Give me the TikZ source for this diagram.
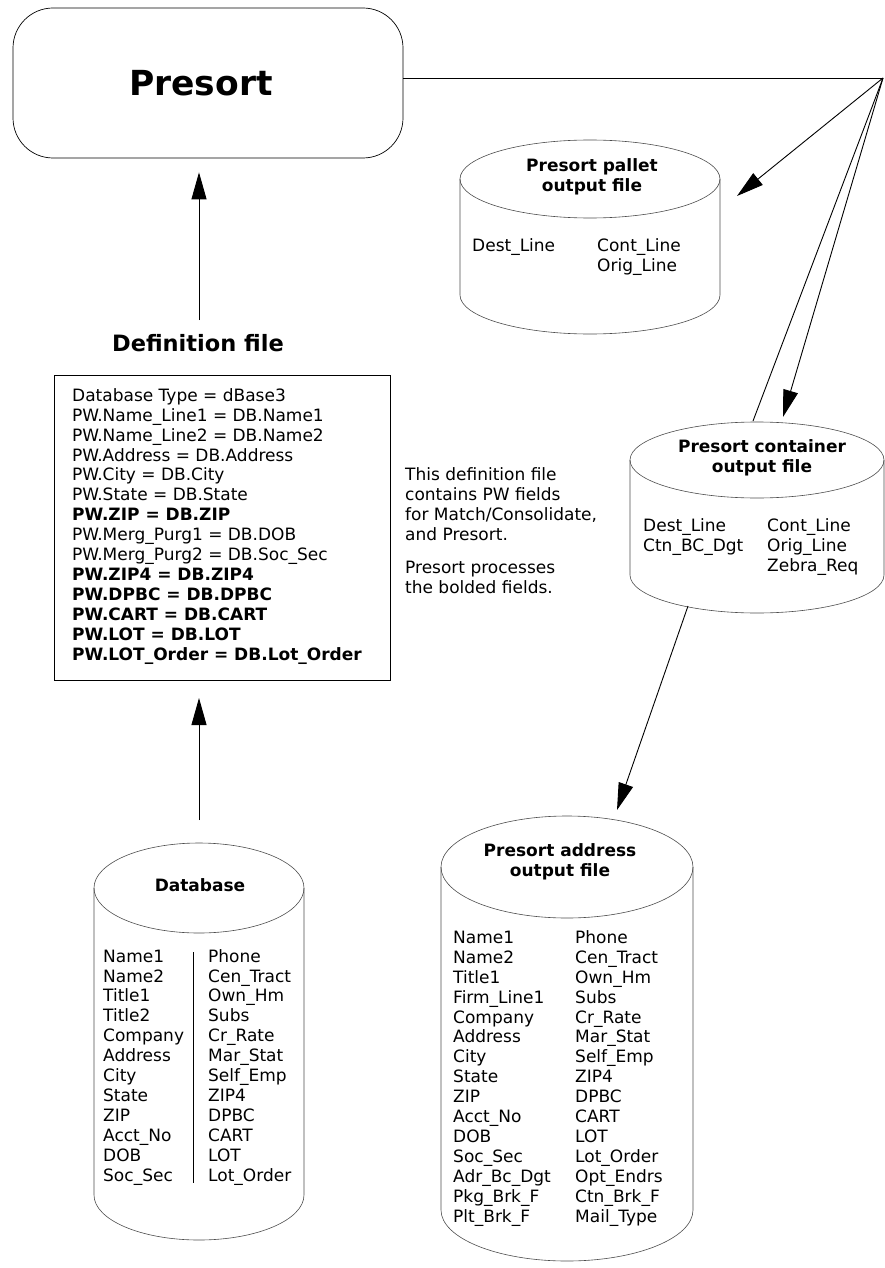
\documentclass[tikz,border=0pt]{standalone}
\usepackage{fontspec}
\setmainfont{DejaVu Sans}
\usetikzlibrary{arrows.meta}

\tikzset{
  arr/.style={-{Triangle[length=27pt,width=15pt]}, line width=0.9pt},
  cylline/.style={line width=0.6pt, draw=black!70},
  % base of a multi-line node is the baseline of its last line
  bodytext/.style={anchor=base west, align=left, inner sep=0pt,
    font=\fontsize{17}{19.9}\selectfont},
  cyltitle/.style={align=center, inner sep=0pt,
    font=\fontsize{17}{19.5}\selectfont\bfseries}
}

% cylinder: centre x, top centre y, bottom centre y, x radius, y radius
\newcommand{\drawcyl}[5]{%
  \draw[cylline] (#1,#2) ellipse [x radius=#4, y radius=#5];
  \draw[cylline] (#1-#4,#2) -- (#1-#4,#3)
    arc[start angle=180, end angle=0, x radius=#4, y radius=#5] -- (#1+#4,#2);
}

\begin{document}
\begin{tikzpicture}[x=1pt, y=-1pt]
                \useasboundingbox (0,0) rectangle (884,1268);
                % Presort and the lines out of it
                \node[draw, line width=0.7pt, rounded corners=40pt, minimum width=390pt,
                      minimum height=150pt, font=\fontsize{34.5}{40}\selectfont\bfseries]
                      (presort) at (208,83) {Presort\kern14pt};
                \coordinate (hub) at (883,78);
                \coordinate (pallettip) at (737,196);
                \coordinate (conttip) at (783,417);
                \coordinate (conttop) at (753,421);
                \draw[line width=0.9pt] (presort.east |- hub) -- (hub);
                \draw[arr] (hub) -- (pallettip);
                \draw[arr] (hub) -- (conttip);
                \draw[line width=0.9pt] (hub) -- (conttop);
                % definition file
                \node[font=\fontsize{22.5}{26}\selectfont\bfseries] (deftitle) at (198,343) {Definition file};
                \coordinate (defup) at (199,331);
                \draw[arr, shorten <=11pt, shorten >=14pt] (defup) -- (defup |- presort.south);
                \draw[line width=0.9pt] (54,375) rectangle (390,680);
                \coordinate (defbot) at (199,680);
                \node[bodytext] (deftext) at (72,660) {Database Type = dBase3\\
                  PW.Name\_Line1 = DB.Name1\\
                  PW.Name\_Line2 = DB.Name2\\
                  PW.Address = DB.Address\\
                  PW.City = DB.City\\
                  PW.State = DB.State\\
                  \textbf{PW.ZIP = DB.ZIP}\\
                  PW.Merg\_Purg1 = DB.DOB\\
                  PW.Merg\_Purg2 = DB.Soc\_Sec\\
                  \textbf{PW.ZIP4 = DB.ZIP4}\\
                  \textbf{PW.DPBC = DB.DPBC}\\
                  \textbf{PW.CART = DB.CART}\\
                  \textbf{PW.LOT = DB.LOT}\\
                  \textbf{PW.LOT\_Order = DB.Lot\_Order}};
                \node[bodytext] (note) at (405,540) {This definition file\\
                  contains PW fields\\
                  for Match/Consolidate,\\
                  and Presort.};
                \node[bodytext] (note2) at (405,593) {Presort processes\\
                  the bolded fields.};
                % database
                \drawcyl{199}{888}{1195}{105}{45}
                \coordinate (dbtop) at (199,843);
                \draw[arr, shorten <=23pt, shorten >=18pt] (dbtop) -- (defbot);
                \node[cyltitle] (dbtitle) at (200,885) {Database};
                \draw[line width=0.8pt] (193,952) -- (193,1183);
                \node[bodytext] (dbleft) at (103,1181) {Name1\\ Name2\\ Title1\\ Title2\\
                  Company\\ Address\\ City\\ State\\ ZIP\\ Acct\_No\\ DOB\\ Soc\_Sec};
                \node[bodytext] (dbright) at (208,1181) {Phone\\ Cen\_Tract\\ Own\_Hm\\ Subs\\
                  Cr\_Rate\\ Mar\_Stat\\ Self\_Emp\\ ZIP4\\ DPBC\\ CART\\ LOT\\ Lot\_Order};
                % pallet output
                \drawcyl{590}{179}{295}{130}{39}
                \node[cyltitle] (pallettitle) at (592,177) {Presort pallet\\ output file};
                \node[bodytext] (palletleft) at (472,251) {Dest\_Line};
                \node[bodytext] (palletright) at (597,271) {Cont\_Line\\ Orig\_Line};
                % container output
                \drawcyl{757}{460}{575}{127}{38}
                \node[cyltitle] (conttitle) at (762,458) {Presort container\\ output file};
                \node[bodytext] (contleft) at (643,551) {Dest\_Line\\ Ctn\_BC\_Dgt};
                \node[bodytext] (contright) at (767,571) {Cont\_Line\\ Orig\_Line\\ Zebra\_Req};
                \coordinate (contbot) at (688,606);
                \coordinate (addrtip) at (617,810);
                \draw[arr] (contbot) -- (addrtip);
                % address output
                \drawcyl{567}{867}{1210}{126}{51}
                \node[cyltitle] (addrtitle) at (560,862) {Presort address\\ output file};
                \node[bodytext] (addrleft) at (453,1222) {Name1\\ Name2\\ Title1\\ Firm\_Line1\\
                  Company\\ Address\\ City\\ State\\ ZIP\\ Acct\_No\\ DOB\\ Soc\_Sec\\
                  Adr\_Bc\_Dgt\\ Pkg\_Brk\_F\\ Plt\_Brk\_F};
                \node[bodytext] (addrright) at (575,1222) {Phone\\ Cen\_Tract\\ Own\_Hm\\ Subs\\
                  Cr\_Rate\\ Mar\_Stat\\ Self\_Emp\\ ZIP4\\ DPBC\\ CART\\ LOT\\ Lot\_Order\\
                  Opt\_Endrs\\ Ctn\_Brk\_F\\ Mail\_Type};
            \end{tikzpicture}
\end{document}
